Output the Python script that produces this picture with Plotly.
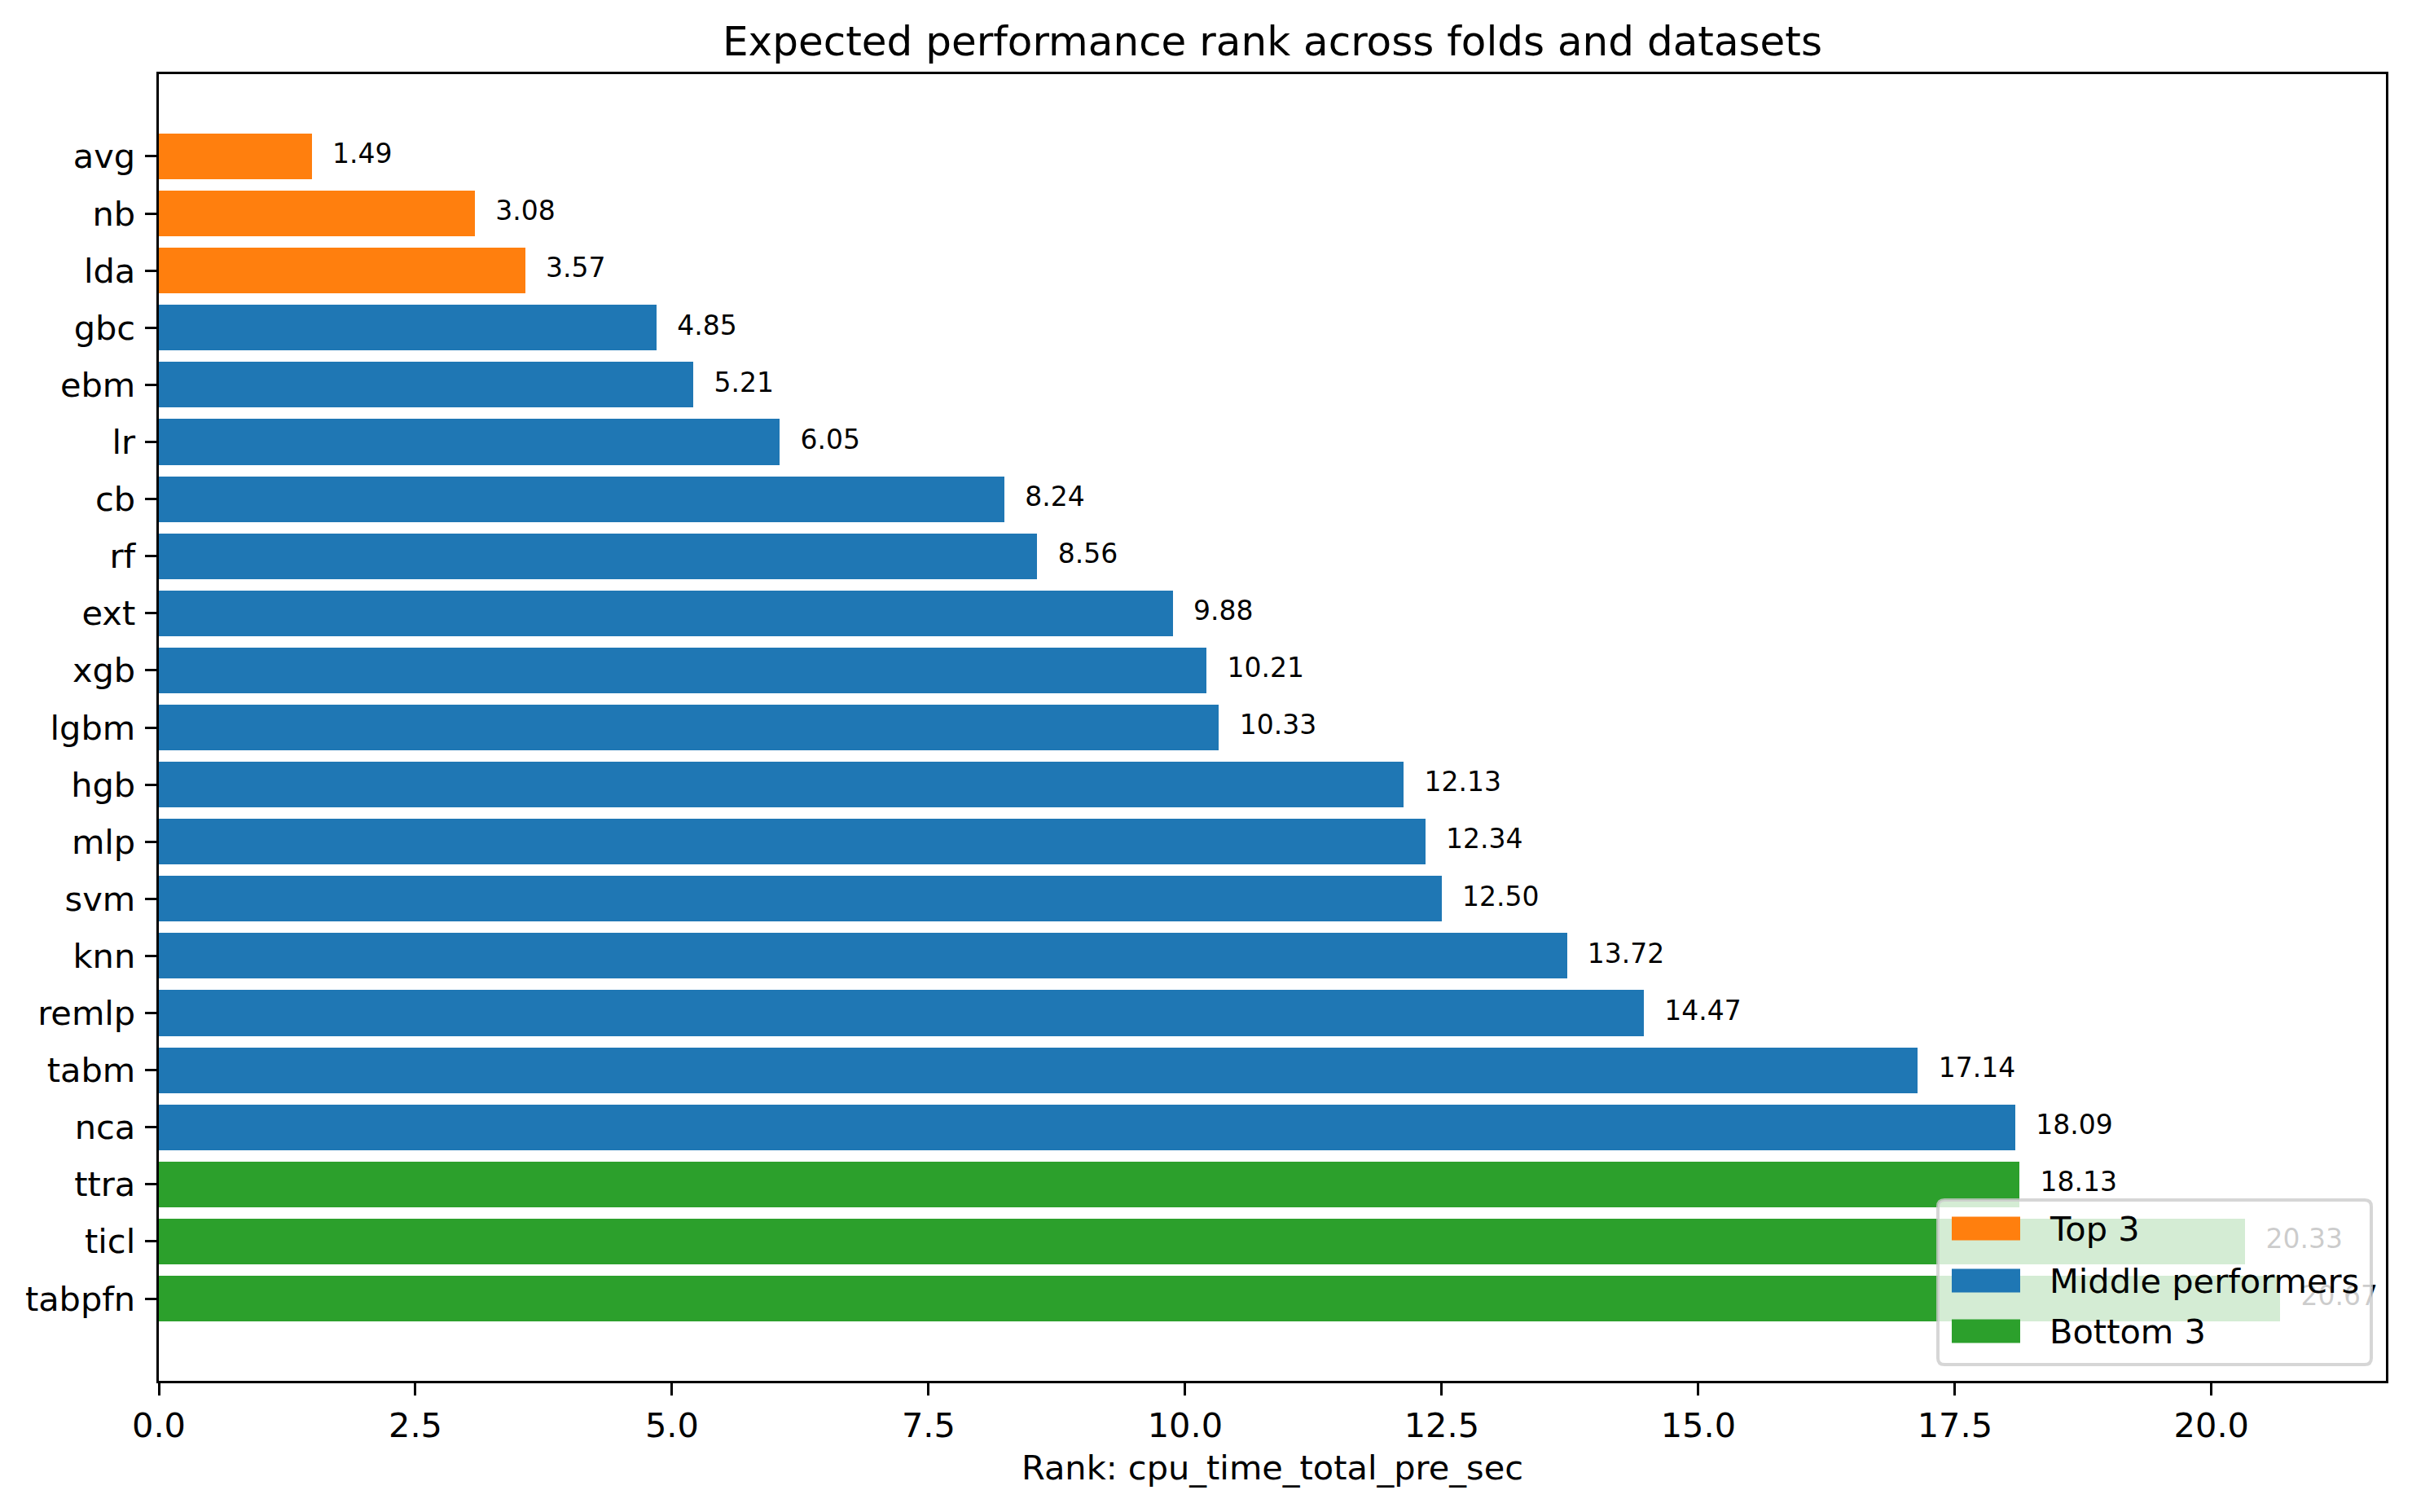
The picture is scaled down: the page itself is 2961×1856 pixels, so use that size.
import plotly.graph_objects as go

models = ["avg", "nb", "lda", "gbc", "ebm", "lr", "cb", "rf", "ext", "xgb", "lgbm",
          "hgb", "mlp", "svm", "knn", "remlp", "tabm", "nca", "ttra", "ticl", "tabpfn"]
ranks = [1.49, 3.08, 3.57, 4.85, 5.21, 6.05, 8.24, 8.56, 9.88, 10.21, 10.33,
         12.13, 12.34, 12.50, 13.72, 14.47, 17.14, 18.09, 18.13, 20.33, 20.67]
groups = ["Top 3"] * 3 + ["Middle performers"] * 15 + ["Bottom 3"] * 3
group_order = ["Top 3", "Middle performers", "Bottom 3"]
group_colors = {"Top 3": "#ff7f0e", "Middle performers": "#1f77b4", "Bottom 3": "#2ca02c"}
x_ticks = [0.0, 2.5, 5.0, 7.5, 10.0, 12.5, 15.0, 17.5, 20.0]

FONT = "DejaVu Sans"
BODY = 8  # default page body margin
W, H = 2961 - 2 * BODY, 1856 - 2 * BODY
# plot area in page pixels
PL, PR, PT, PB = 195, 2929, 91, 1695
ml, mr, mt, mb = PL - BODY, (W + BODY) - PR, PT - BODY, (H + BODY) - PB


def px2x(px):
    return (px - PL) / (PR - PL)


def px2y(py):
    return (PB - py) / (PB - PT)


fig = go.Figure()
pos = list(range(len(models)))
for g in group_order:
    idx = [i for i, gg in enumerate(groups) if gg == g]
    fig.add_trace(go.Bar(
        x=[ranks[i] for i in idx], y=[pos[i] for i in idx], orientation="h",
        width=0.8, marker=dict(color=group_colors[g], line=dict(width=0)),
        name=g, hoverinfo="x+y"))

# value labels (drawn in the trace layer so the legend box fades them)
fig.add_trace(go.Scatter(
    x=[v + 0.2 for v in ranks], y=pos, mode="text",
    text=[f"{v:.2f}" for v in ranks], textposition="middle right",
    textfont=dict(family=FONT, size=33, color="black"),
    showlegend=False, hoverinfo="skip"))

# matplotlib-style legend box
lx0, lx1, ly0, ly1 = 2379, 2911, 1473, 1675
r = 8
rx, ry = r / (PR - PL), r / (PB - PT)
X0, X1, Y0, Y1 = px2x(lx0), px2x(lx1), px2y(ly1), px2y(ly0)
path = (f"M {X0+rx},{Y0} L {X1-rx},{Y0} Q {X1},{Y0} {X1},{Y0+ry} "
        f"L {X1},{Y1-ry} Q {X1},{Y1} {X1-rx},{Y1} L {X0+rx},{Y1} "
        f"Q {X0},{Y1} {X0},{Y1-ry} L {X0},{Y0+ry} Q {X0},{Y0} {X0+rx},{Y0} Z")
fig.add_shape(type="path", path=path, xref="paper", yref="paper",
              fillcolor="rgba(255,255,255,0.8)",
              line=dict(color="rgba(204,204,204,0.8)", width=4), layer="above")
item_centers = [1508, 1572, 1634]
for g, cy in zip(group_order, item_centers):
    fig.add_shape(type="rect", xref="paper", yref="paper",
                  x0=px2x(2396), x1=px2x(2480), y0=px2y(cy + 14.5), y1=px2y(cy - 14.5),
                  fillcolor=group_colors[g], line=dict(width=0), layer="above")
    fig.add_annotation(x=px2x(2514), y=px2y(cy), xref="paper", yref="paper",
                       text=g, showarrow=False, xanchor="left", yanchor="middle",
                       font=dict(family=FONT, size=41.5, color="black"))

n = len(models)
span = n - 0.2
fig.update_layout(
    width=W, height=H,
    margin=dict(l=ml, r=mr, t=mt, b=mb, pad=0),
    paper_bgcolor="white", plot_bgcolor="white",
    barmode="overlay", bargap=0,
    font=dict(family=FONT, size=41.5, color="black"),
    title=dict(text="Expected performance rank across folds and datasets",
               x=px2x(1562) * (PR - PL) / W + ml / W, xanchor="center",
               y=1 - (50 - BODY) / H, yanchor="middle",
               font=dict(family=FONT, size=50, color="black")),
    xaxis=dict(range=[0, 21.7], tickvals=x_ticks,
               ticktext=[f"{t:.1f}" for t in x_ticks],
               ticks="outside", ticklen=14.5, tickwidth=3, tickcolor="black",
               showline=True, linecolor="black", linewidth=3, mirror=True,
               showgrid=False, zeroline=False, ticklabelstandoff=2,
               tickfont=dict(family=FONT, size=41.5),
               title=dict(text="Rank: cpu_time_total_pre_sec",
                          font=dict(family=FONT, size=41.5), standoff=14)),
    yaxis=dict(range=[(n - 1) + 0.4 + 0.05 * span, -0.4 - 0.05 * span],
               tickvals=pos, ticktext=models,
               ticks="outside", ticklen=14.5, tickwidth=3, tickcolor="black",
               showline=True, linecolor="black", linewidth=3, mirror=True,
               showgrid=False, zeroline=False, ticklabelstandoff=3,
               tickfont=dict(family=FONT, size=41.5)),
    showlegend=False,
)

fig.write_html("out.html")
